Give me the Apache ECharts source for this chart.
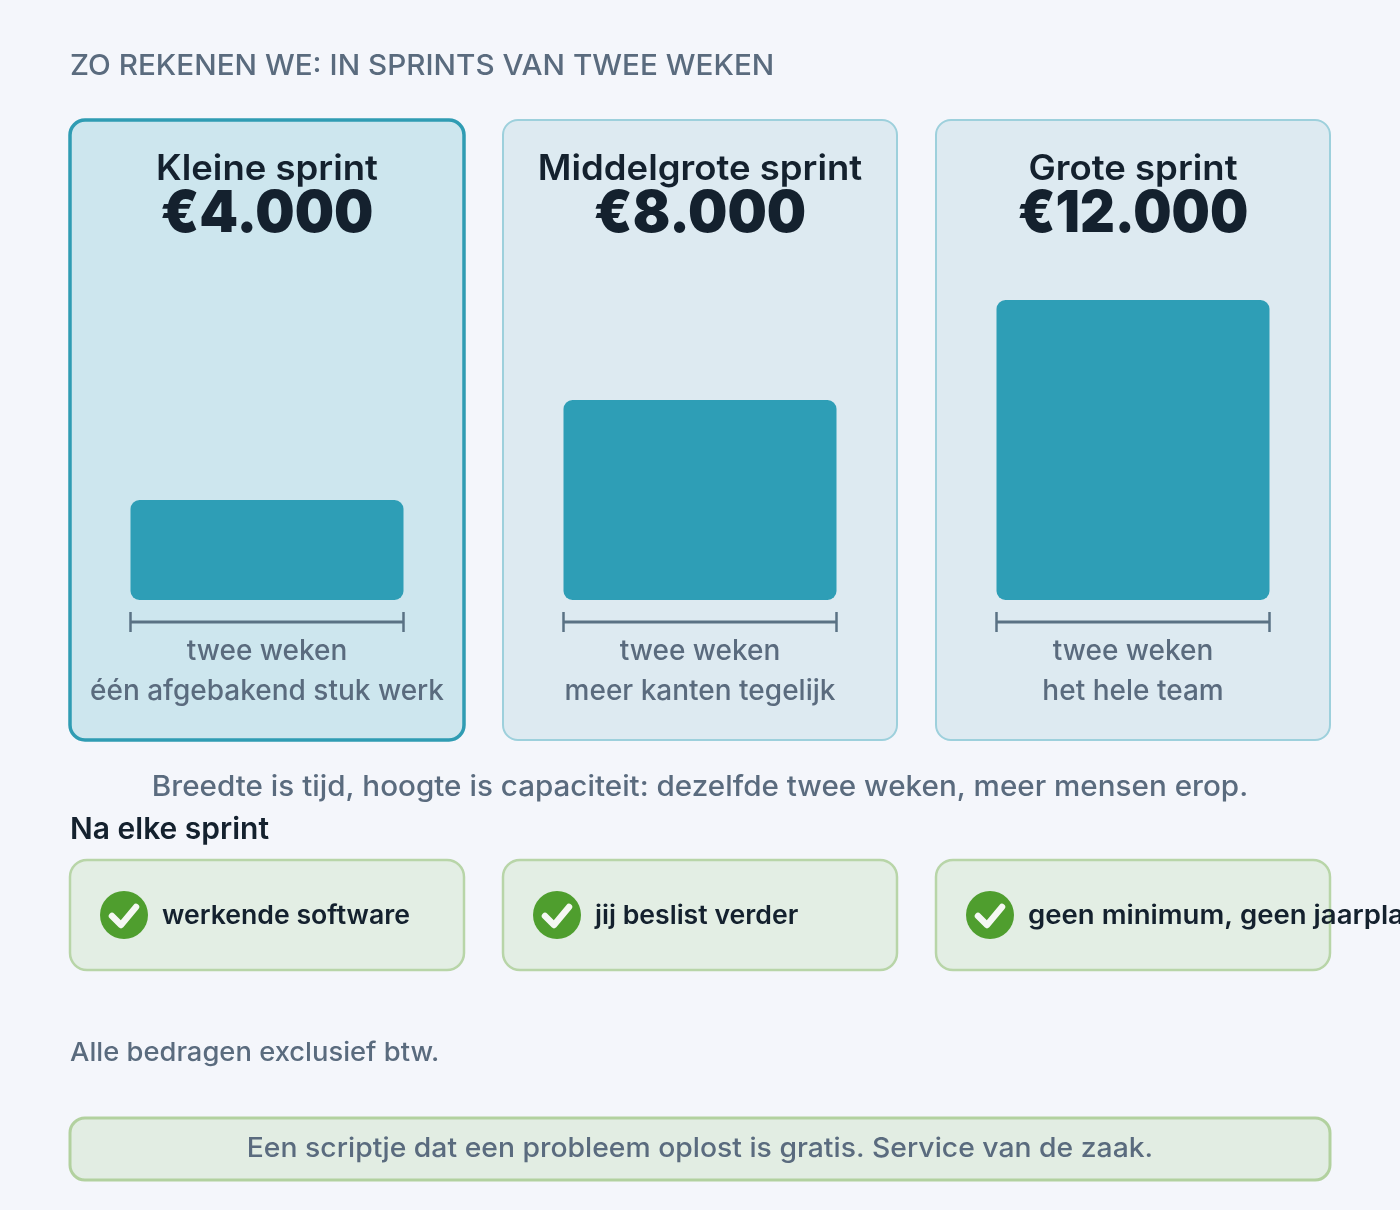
<!DOCTYPE html>
<html>
<head>
<meta charset="utf-8">
<style>
  html, body { margin: 0; padding: 0; background: #f4f6fb; overflow: hidden; }
  #main { width: 1400px; height: 1210px; }
</style>
<script src="https://cdn.jsdelivr.net/npm/echarts@6/dist/echarts.min.js"></script>
</head>
<body>
<div id="main"></div>
<script>
var sprints = ['Kleine sprint', 'Middelgrote sprint', 'Grote sprint'];
var prices = ['€4.000', '€8.000', '€12.000'];
var capacity = [4000, 8000, 12000];
var duration = 'twee weken';
var notes = ['één afgebakend stuk werk', 'meer kanten tegelijk', 'het hele team'];
var outcomes = ['werkende software', 'jij beslist verder', 'geen minimum, geen jaarplanning'];

var FONT = 'Inter, "Noto Sans", sans-serif';
var DARK = '#14212e';
var GREY = '#5a6b7e';
var TEAL = '#2e9eb6';

var myChart = echarts.init(document.getElementById('main'));

var cardX = [70, 503, 936];
var cardW = 394;
var grids = [], xAxes = [], yAxes = [], series = [], graphic = [];

function text(str, x, y, size, weight, color, align, sx) {
  graphic.push({
    type: 'text', x: x, y: y, z: 5, scaleX: sx || 1,
    style: {
      text: str, fill: color, align: align || 'left', verticalAlign: 'middle',
      font: weight + ' ' + size + 'px ' + FONT
    }
  });
}
function box(x, y, w, h, r, fill, stroke, lw) {
  graphic.push({
    type: 'rect', z: 0,
    shape: { x: x, y: y, width: w, height: h, r: r },
    style: { fill: fill, stroke: stroke, lineWidth: lw }
  });
}
function line(x1, y1, x2, y2, lw) {
  graphic.push({
    type: 'line', z: 5,
    shape: { x1: x1, y1: y1, x2: x2, y2: y2 },
    style: { stroke: '#5a7284', lineWidth: lw }
  });
}

text('ZO REKENEN WE: IN SPRINTS VAN TWEE WEKEN', 70, 66, 28.5, 500, GREY, 'left', 1.042);

sprints.forEach(function (name, i) {
  var x = cardX[i];
  var mid = x + cardW / 2;
  if (i === 0) box(x, 120, cardW, 620, 15, '#cde6ee', '#2f9cb3', 3.5);
  else box(x, 120, cardW, 620, 15, '#ddeaf1', '#9dd0dc', 2);

  text(name, mid, 169, 35, 600, DARK, 'center', 1.043);
  // the 1 is narrow in the original font, so the last price gets pulled in a bit more
  text(prices[i], mid, 215, 58, 900, DARK, 'center', i === 2 ? 0.93 : 0.955);

  grids.push({ left: x + 60.5, top: 300, width: 273, height: 300 });
  xAxes.push({
    type: 'category', gridIndex: i, data: [name],
    axisLine: { show: false }, axisTick: { show: false },
    axisLabel: {
      formatter: duration + '\n' + notes[i],
      color: GREY, fontFamily: FONT, fontWeight: 500, fontSize: 28, lineHeight: 40, margin: 32
    }
  });
  yAxes.push({ type: 'value', gridIndex: i, min: 0, max: 12000, show: false });
  series.push({
    type: 'bar', xAxisIndex: i, yAxisIndex: i, barWidth: '100%',
    data: [capacity[i]], silent: true,
    itemStyle: { color: TEAL, borderRadius: 9 }
  });

  // bracket under the bar
  line(x + 60.5, 622, x + 333.5, 622, 3);
  line(x + 60.5, 612, x + 60.5, 632, 2.5);
  line(x + 333.5, 612, x + 333.5, 632, 2.5);

  // outcome tiles
  box(x, 860, cardW, 110, 17, '#e3eee4', '#b8d5a8', 2.5);
  graphic.push({
    type: 'circle', z: 3,
    shape: { cx: x + 54, cy: 915, r: 24 },
    style: { fill: '#4f9e2e' }
  });
  graphic.push({
    type: 'polyline', z: 4,
    shape: { points: [[x + 42, 916], [x + 51, 925], [x + 66, 907]] },
    style: { stroke: '#f5f8f3', lineWidth: 6.5, lineCap: 'round', lineJoin: 'round', fill: null }
  });
  text(outcomes[i], x + 92, 916, 26, 600, DARK, 'left', i === 2 ? 1.06 : 1.025);
});

text('Breedte is tijd, hoogte is capaciteit: dezelfde twee weken, meer mensen erop.', 700, 788, 28, 500, GREY, 'center', 1.058);
text('Na elke sprint', 70, 830, 30, 600, DARK);
text('Alle bedragen exclusief btw.', 70, 1053, 26, 500, GREY, 'left', 1.052);
box(70, 1118, 1260, 62, 15, '#e2ede3', '#b2d19f', 3);
text('Een scriptje dat een probleem oplost is gratis. Service van de zaak.', 700, 1149, 27, 500, GREY, 'center', 1.049);

var option = {
  animation: false,
  backgroundColor: '#f4f6fb',
  grid: grids,
  xAxis: xAxes,
  yAxis: yAxes,
  series: series,
  graphic: graphic
};
myChart.setOption(option);
</script>
</body>
</html>
